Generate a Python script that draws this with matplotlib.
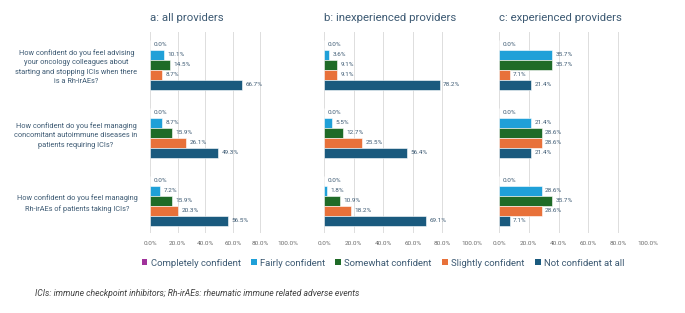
import matplotlib
matplotlib.use("Agg")
import matplotlib.pyplot as plt
from matplotlib.patches import Patch

plt.rcParams['font.family'] = ['Roboto', 'DejaVu Sans']

questions = [
    "How confident do you feel advising\nyour oncology colleagues about\nstarting and stopping ICIs when there\nis a Rh-irAEs?",
    "How confident do you feel managing\nconcomitant autoimmune diseases in\npatients requiring ICIs?",
    "How confident do you feel managing\nRh-irAEs of patients taking ICIs?",
]
levels = ["Completely confident", "Fairly confident", "Somewhat confident",
          "Slightly confident", "Not confident at all"]
colors = ["#A0329B", "#1FA0D8", "#1F6B27", "#E8713A", "#1A5A7E"]

panel_titles = ["a: all providers", "b: inexperienced providers", "c: experienced providers"]

# values[level][question]
all_providers = [
    [0.0, 0.0, 0.0],
    [10.1, 8.7, 7.2],
    [14.5, 15.9, 15.9],
    [8.7, 26.1, 20.3],
    [66.7, 49.3, 56.5],
]
inexperienced = [
    [0.0, 0.0, 0.0],
    [3.6, 5.5, 1.8],
    [9.1, 12.7, 10.9],
    [9.1, 25.5, 18.2],
    [78.2, 56.4, 69.1],
]
experienced = [
    [0.0, 0.0, 0.0],
    [35.7, 21.4, 28.6],
    [35.7, 28.6, 35.7],
    [7.1, 28.6, 28.6],
    [21.4, 21.4, 7.1],
]
panels = [all_providers, inexperienced, experienced]

xticks = [0, 20, 40, 60, 80, 100]
xticklabels = ["0.0%", "20.0%", "40.0%", "60.0%", "80.0%", "100.0%"]

text_col = "#3D5A73"
tick_col = "#6B6B6B"

W, H = 685, 313
fig = plt.figure(figsize=(W / 100, H / 100), dpi=100)

# axes left/right edges in pixels
edges = [(150, 288), (324, 472), (499, 648)]
top_px, bot_px = 32, 233
group_gap = 6.8

for p, (data, (x0, x1)) in enumerate(zip(panels, edges)):
    ax = fig.add_axes([x0 / W, 1 - bot_px / H, (x1 - x0) / W, (bot_px - top_px) / H])
    for i, lev in enumerate(levels):
        ys = [group_gap * q + i for q in range(len(questions))]
        vals = data[i]
        ax.barh(ys, vals, height=0.92, color=colors[i], edgecolor="white",
                linewidth=0.4, zorder=3)
        for y, v in zip(ys, vals):
            ax.annotate(f"{v:.1f}%", (v, y), xytext=(2.5, 0), textcoords="offset points",
                        ha="left", va="center", fontsize=4.6, color=text_col)
    ax.set_xlim(0, 100)
    ax.set_ylim(18.8, -1.3)
    ax.set_xticks(xticks)
    ax.set_xticklabels(xticklabels, fontsize=4.6, color=tick_col)
    ax.tick_params(axis="x", length=0, pad=6)
    ax.grid(axis="x", color="#DDDDDD", linewidth=0.7, zorder=0)
    for s in ax.spines.values():
        s.set_visible(False)
    if p == 0:
        ax.set_yticks([group_gap * q + 2 for q in range(len(questions))])
        ax.set_yticklabels(questions, fontsize=5.3, color=text_col,
                           multialignment="center", linespacing=1.5)
        ax.tick_params(axis="y", length=0, pad=9)
    else:
        ax.set_yticks([])
    ax.set_title(panel_titles[p], loc="left", fontsize=8.2, color=text_col, pad=8)

handles = [Patch(facecolor=c, edgecolor="none") for c in colors]
fig.legend(handles, levels, loc="center", bbox_to_anchor=(383 / W, 1 - 263 / H),
           ncol=5, frameon=False, fontsize=6.8, labelcolor=text_col,
           handlelength=0.6, handleheight=0.6, handletextpad=0.35, columnspacing=1.1)

fig.text(35 / W, 1 - 294 / H,
         "ICIs: immune checkpoint inhibitors; Rh-irAEs: rheumatic immune related adverse events",
         fontsize=6.2, style="italic", color="#404040", va="center", ha="left")

fig.savefig("out.png", dpi=100, facecolor="white")
